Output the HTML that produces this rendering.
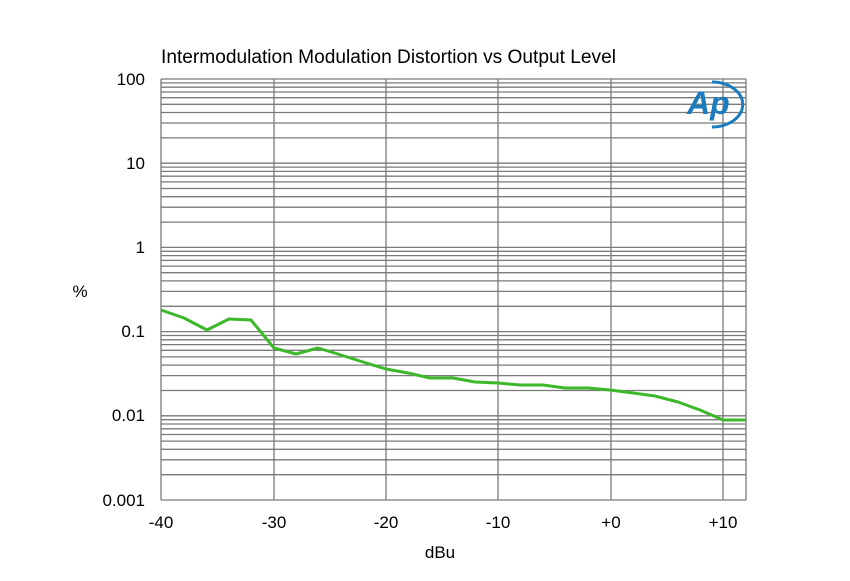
<!DOCTYPE html>
<html><head><style>body{margin:0;background:#fff}svg{display:block}</style></head><body>
<svg width="850" height="581" xmlns="http://www.w3.org/2000/svg" xmlns:xlink="http://www.w3.org/1999/xlink" font-family="Liberation Sans, Arial, sans-serif">
<rect width="850" height="581" fill="#fff"/>
<defs>
<g id="dec" stroke="#7a7a7a" stroke-width="1.3">
<line x1="161" x2="746" y1="0" y2="0"/>
<line x1="161" x2="746" y1="3.9" y2="3.9"/>
<line x1="161" x2="746" y1="8.2" y2="8.2"/>
<line x1="161" x2="746" y1="13" y2="13"/>
<line x1="161" x2="746" y1="18.7" y2="18.7"/>
<line x1="161" x2="746" y1="25.3" y2="25.3"/>
<line x1="161" x2="746" y1="33.5" y2="33.5"/>
<line x1="161" x2="746" y1="44" y2="44"/>
<line x1="161" x2="746" y1="58.9" y2="58.9"/>
</g>
</defs>
<use xlink:href="#dec" href="#dec" transform="translate(0,79)"/>
<use xlink:href="#dec" href="#dec" transform="translate(0,163.2)"/>
<use xlink:href="#dec" href="#dec" transform="translate(0,247.4)"/>
<use xlink:href="#dec" href="#dec" transform="translate(0,331.6)"/>
<use xlink:href="#dec" href="#dec" transform="translate(0,415.8)"/>
<g stroke="#7a7a7a" stroke-width="1.3">
<line x1="161" x2="746" y1="500" y2="500"/>
<line x1="161" x2="161" y1="79" y2="500"/>
<line x1="274" x2="274" y1="79" y2="500"/>
<line x1="386" x2="386" y1="79" y2="500"/>
<line x1="498" x2="498" y1="79" y2="500"/>
<line x1="611" x2="611" y1="79" y2="500"/>
<line x1="723" x2="723" y1="79" y2="500"/>
<line x1="746" x2="746" y1="79" y2="500"/>
</g>
<text x="161" y="63" font-size="19" fill="#000" textLength="455" lengthAdjust="spacingAndGlyphs">Intermodulation Modulation Distortion vs Output Level</text>
<g font-size="17" fill="#000" text-anchor="end">
<text x="145" y="85">100</text><text x="145" y="169">10</text><text x="145" y="253">1</text><text x="145" y="337">0.1</text><text x="145" y="421">0.01</text><text x="145" y="506">0.001</text>
</g>
<g font-size="17" fill="#000" text-anchor="middle">
<text x="161" y="528">-40</text><text x="274" y="528">-30</text><text x="386" y="528">-20</text><text x="498" y="528">-10</text><text x="611" y="528">+0</text><text x="723" y="528">+10</text>
<text x="440" y="558">dBu</text>
</g>
<text x="80" y="297" font-size="17" text-anchor="middle">%</text>
<path d="M712 82 A30 22 0 0 1 712 127" stroke="#1a7bbf" stroke-width="3" fill="none"/>
<text x="687" y="114" font-size="32" font-style="italic" font-weight="bold" fill="#1a7bbf">Ap</text>
<polyline fill="none" stroke="#3cb82a" stroke-width="3" stroke-linejoin="round" points="161,310 184,318 207,330 229,319 251,320 274,348 296,354 318,348 341,355 363,362 386,369 408,373 430,378 453,378 475,382 498,383 520,385 543,385 565,388 588,388 610,390 633,393 655,396 678,402 700,410 723,420 746,420"/>
</svg>
</body></html>
